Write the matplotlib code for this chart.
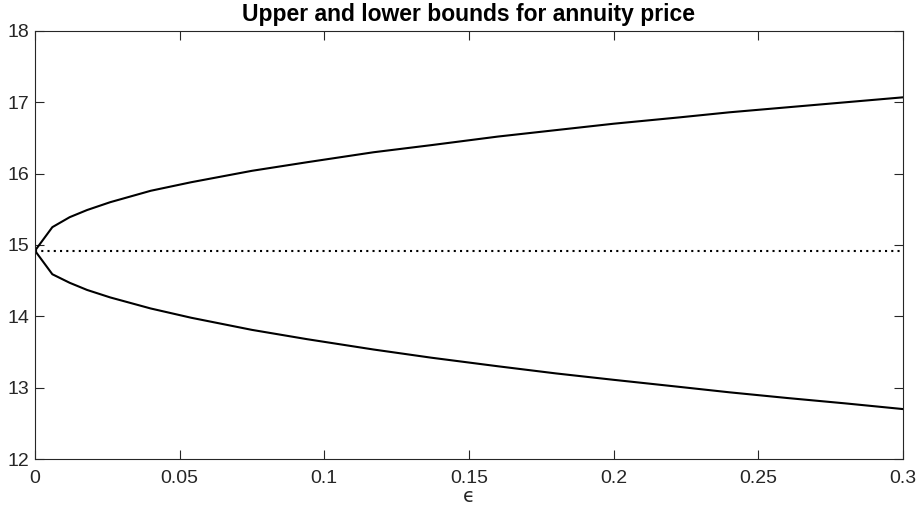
import matplotlib.pyplot as plt

# values
eps = [0, 0.006, 0.012, 0.018, 0.026, 0.04, 0.054, 0.075, 0.094,
       0.117, 0.137, 0.16, 0.18, 0.2, 0.223, 0.24, 0.26, 0.28, 0.3]
upper = [14.92, 15.25, 15.39, 15.49, 15.60, 15.76, 15.88, 16.04, 16.16,
         16.30, 16.40, 16.52, 16.61, 16.70, 16.79, 16.86, 16.93, 17.00, 17.07]
lower = [14.92, 14.59, 14.47, 14.37, 14.265, 14.11, 13.98, 13.81, 13.68,
         13.535, 13.42, 13.30, 13.20, 13.11, 13.01, 12.935, 12.855, 12.78, 12.70]
center = 14.92

xticks = [0, 0.05, 0.1, 0.15, 0.2, 0.25, 0.3]
xticklabels = ["0", "0.05", "0.1", "0.15", "0.2", "0.25", "0.3"]
yticks = [12, 13, 14, 15, 16, 17, 18]

plt.rcParams["font.family"] = ["Liberation Sans", "DejaVu Sans"]

fig = plt.figure(figsize=(9.23, 5.19), dpi=100)
ax = fig.add_axes([0.0379, 0.1156, 0.9404, 0.8247])

ax.plot(eps, upper, color="black", linewidth=1.5)
ax.plot(eps, lower, color="black", linewidth=1.5)
ax.plot([eps[0], eps[-1]], [center, center], color="black",
        linewidth=1.5, linestyle=(0, (1, 2)))

ax.set_xlim(0, 0.3)
ax.set_ylim(12, 18)
ax.set_xticks(xticks)
ax.set_xticklabels(xticklabels)
ax.set_yticks(yticks)

axis_color = "#262626"
for side in ["top", "bottom", "left", "right"]:
    ax.spines[side].set_color(axis_color)
    ax.spines[side].set_linewidth(0.8)

ax.tick_params(direction="in", length=6.5, width=0.8, color=axis_color,
               labelcolor=axis_color, labelsize=14, top=True, right=True)
ax.tick_params(axis="x", pad=8)
ax.tick_params(axis="y", pad=4)

ax.set_title("Upper and lower bounds for annuity price",
             fontsize=16.5, fontweight="bold", pad=7.5)
ax.set_xlabel("ϵ", fontsize=14, color=axis_color, labelpad=0,
              family=["DejaVu Sans"])

fig.savefig("out.png", dpi=100)
